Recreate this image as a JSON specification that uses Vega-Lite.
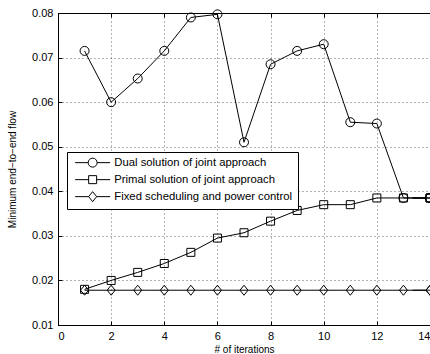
{
  "$schema": "https://vega.github.io/schema/vega-lite/v6.json",
  "width": 372,
  "height": 312,
  "autosize": {"type": "none"},
  "padding": {"left": 58, "top": 13, "right": 0, "bottom": 29},
  "background": "white",
  "config": {
    "font": "Liberation Sans",
    "view": {"stroke": "black", "strokeWidth": 1},
    "axis": {
      "domainColor": "black",
      "tickColor": "black",
      "labelColor": "black",
      "titleColor": "black",
      "labelFont": "Liberation Sans",
      "titleFont": "Liberation Sans",
      "labelFontSize": 11,
      "titleFontSize": 10,
      "titleFontWeight": "normal",
      "gridColor": "black",
      "gridOpacity": 0.6,
      "gridDash": [1, 3],
      "tickSize": -4,
      "labelPadding": 9
    }
  },
  "data": {
    "values": [
      {"x": 1, "y": 0.0715, "series": "Dual solution of joint approach"},
      {"x": 2, "y": 0.0600, "series": "Dual solution of joint approach"},
      {"x": 3, "y": 0.0653, "series": "Dual solution of joint approach"},
      {"x": 4, "y": 0.0715, "series": "Dual solution of joint approach"},
      {"x": 5, "y": 0.0790, "series": "Dual solution of joint approach"},
      {"x": 6, "y": 0.0797, "series": "Dual solution of joint approach"},
      {"x": 7, "y": 0.0510, "series": "Dual solution of joint approach"},
      {"x": 8, "y": 0.0685, "series": "Dual solution of joint approach"},
      {"x": 9, "y": 0.0715, "series": "Dual solution of joint approach"},
      {"x": 10, "y": 0.0730, "series": "Dual solution of joint approach"},
      {"x": 11, "y": 0.0555, "series": "Dual solution of joint approach"},
      {"x": 12, "y": 0.0552, "series": "Dual solution of joint approach"},
      {"x": 13, "y": 0.0385, "series": "Dual solution of joint approach"},
      {"x": 14, "y": 0.0385, "series": "Dual solution of joint approach"},
      {"x": 1, "y": 0.0180, "series": "Primal solution of joint approach"},
      {"x": 2, "y": 0.0200, "series": "Primal solution of joint approach"},
      {"x": 3, "y": 0.0218, "series": "Primal solution of joint approach"},
      {"x": 4, "y": 0.0238, "series": "Primal solution of joint approach"},
      {"x": 5, "y": 0.0263, "series": "Primal solution of joint approach"},
      {"x": 6, "y": 0.0295, "series": "Primal solution of joint approach"},
      {"x": 7, "y": 0.0307, "series": "Primal solution of joint approach"},
      {"x": 8, "y": 0.0333, "series": "Primal solution of joint approach"},
      {"x": 9, "y": 0.0357, "series": "Primal solution of joint approach"},
      {"x": 10, "y": 0.0370, "series": "Primal solution of joint approach"},
      {"x": 11, "y": 0.0370, "series": "Primal solution of joint approach"},
      {"x": 12, "y": 0.0385, "series": "Primal solution of joint approach"},
      {"x": 13, "y": 0.0385, "series": "Primal solution of joint approach"},
      {"x": 14, "y": 0.0385, "series": "Primal solution of joint approach"},
      {"x": 1, "y": 0.0178, "series": "Fixed scheduling and power control"},
      {"x": 2, "y": 0.0178, "series": "Fixed scheduling and power control"},
      {"x": 3, "y": 0.0178, "series": "Fixed scheduling and power control"},
      {"x": 4, "y": 0.0178, "series": "Fixed scheduling and power control"},
      {"x": 5, "y": 0.0178, "series": "Fixed scheduling and power control"},
      {"x": 6, "y": 0.0178, "series": "Fixed scheduling and power control"},
      {"x": 7, "y": 0.0178, "series": "Fixed scheduling and power control"},
      {"x": 8, "y": 0.0178, "series": "Fixed scheduling and power control"},
      {"x": 9, "y": 0.0178, "series": "Fixed scheduling and power control"},
      {"x": 10, "y": 0.0178, "series": "Fixed scheduling and power control"},
      {"x": 11, "y": 0.0178, "series": "Fixed scheduling and power control"},
      {"x": 12, "y": 0.0178, "series": "Fixed scheduling and power control"},
      {"x": 13, "y": 0.0178, "series": "Fixed scheduling and power control"},
      {"x": 14, "y": 0.0178, "series": "Fixed scheduling and power control"}
    ]
  },
  "layer": [
    {
      "mark": {"type": "line", "color": "black", "strokeWidth": 1, "clip": false},
      "encoding": {
        "x": {"field": "x", "type": "quantitative", "scale": {"domain": [0, 14]},
              "axis": {"values": [0, 2, 4, 6, 8, 10, 12, 14], "title": "# of iterations", "titlePadding": 3, "orient": "bottom"}},
        "y": {"field": "y", "type": "quantitative", "scale": {"domain": [0.01, 0.08]},
              "axis": {"values": [0.01, 0.02, 0.03, 0.04, 0.05, 0.06, 0.07, 0.08], "format": ".2f", "title": "Minimum end−to−end flow", "titlePadding": 14, "orient": "left"}},
        "detail": {"field": "series"}
      }
    },
    {
      "mark": {"type": "point", "filled": false, "color": "black", "size": 100, "strokeWidth": 1, "opacity": 1},
      "encoding": {
        "x": {"field": "x", "type": "quantitative", "scale": {"domain": [0, 14]},
              "axis": {"orient": "top", "values": [0, 2, 4, 6, 8, 10, 12, 14], "labels": false, "grid": false, "title": null, "domain": false}},
        "y": {"field": "y", "type": "quantitative", "axis": null},
        "shape": {
          "field": "series", "type": "nominal",
          "scale": {
            "domain": ["Dual solution of joint approach", "Primal solution of joint approach", "Fixed scheduling and power control"],
            "range": ["M0.9,0A0.9,0.9 0 1,1 -0.9,0A0.9,0.9 0 1,1 0.9,0Z", "M-0.8,-0.8H0.8V0.8H-0.8Z", "M0,-1L0.8,0L0,1L-0.8,0Z"]
          },
          "legend": null
        }
      }
    },
    {
      "transform": [{"filter": "datum.x == 14"}],
      "mark": {"type": "point", "filled": false, "color": "black", "size": 100, "strokeWidth": 1, "opacity": 1},
      "encoding": {
        "x": {"field": "x", "type": "quantitative", "scale": {"domain": [0, 14]}, "axis": null},
        "y": {"field": "y", "type": "quantitative", "axis": null},
        "shape": {
          "field": "series", "type": "nominal",
          "scale": {
            "domain": ["Dual solution of joint approach", "Primal solution of joint approach", "Fixed scheduling and power control"],
            "range": [
              "M-3.5,0H-0.9M0.9,0H3.5M0.9,0A0.9,0.9 0 1,1 -0.9,0A0.9,0.9 0 1,1 0.9,0Z",
              "M-3.5,0H-0.8M0.8,0H3.5M-0.8,-0.8H0.8V0.8H-0.8Z",
              "M-3.5,0H-0.8M0.8,0H3.5M0,-1L0.8,0L0,1L-0.8,0Z"
            ]
          },
          "legend": {
            "title": null,
            "orient": "none",
            "legendX": 9,
            "legendY": 139,
            "padding": 5,
            "strokeColor": "black",
            "fillColor": "white",
            "labelFont": "Liberation Sans",
            "labelFontSize": 11.3,
            "labelColor": "black",
            "labelLimit": 400,
            "symbolSize": 100,
            "symbolStrokeColor": "black",
            "symbolStrokeWidth": 1,
            "symbolOffset": 15,
            "labelOffset": 16,
            "rowPadding": 3
          }
        }
      }
    }
  ],
  "resolve": {"scale": {"shape": "independent"}, "axis": {"x": "independent", "y": "independent"}}
}
